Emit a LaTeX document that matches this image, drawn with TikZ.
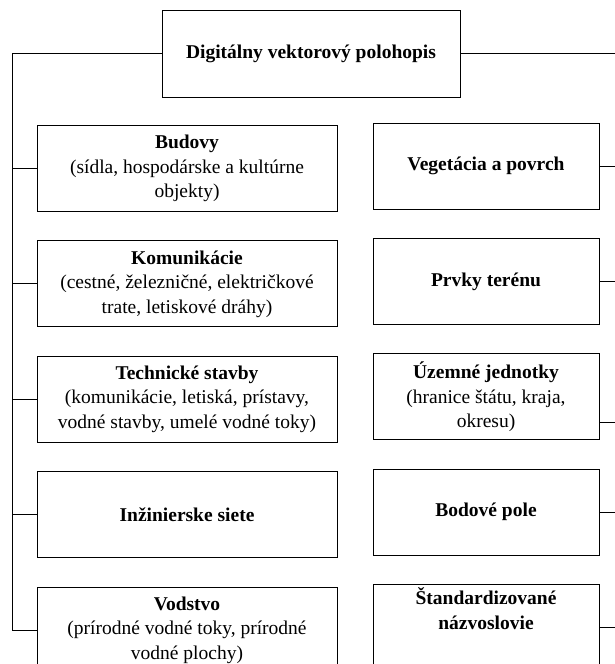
\documentclass[tikz,border=0pt]{standalone}
\usepackage{fontspec}
\setmainfont{Liberation Serif}
\usetikzlibrary{positioning}

\begin{document}
\begin{tikzpicture}[
  x=1pt, y=1pt,
  font=\fontsize{19.5}{24.5}\selectfont,
  box/.style={draw, line width=0.9pt, align=center, inner sep=0pt, minimum height=86pt},
  lbox/.style={box, minimum width=300pt},
  rbox/.style={box, minimum width=226pt},
  hlavny/.style={box, minimum width=298pt, minimum height=87pt, font=\fontsize{19.5}{24.5}\selectfont\bfseries},
  spoj/.style={line width=0.9pt},
  node distance=28.5pt,
]
\useasboundingbox (0,0) rectangle (615,-664);

% --- Hlavny uzol ---
\node[hlavny] (dvp) at (311,-53.5) {Digitálny vektorový polohopis};

% --- Lavy stlpec ---
\node[lbox] (bud) at (187,-168.5) {\textbf{Budovy}\\(sídla, hospodárske a kultúrne\\objekty)};
\node[lbox, below=of bud] (kom) {\textbf{Komunikácie}\\(cestné, železničné, električkové\\trate, letiskové dráhy)};
\node[lbox, below=of kom] (tech) {\textbf{Technické stavby}\\(komunikácie, letiská, prístavy,\\vodné stavby, umelé vodné toky)};
\node[lbox, below=of tech] (inz) {\textbf{Inžinierske siete}};
\node[lbox, below=of inz] (vod) {\textbf{Vodstvo}\\(prírodné vodné toky, prírodné\\vodné plochy)};

% --- Pravy stlpec ---
\node[rbox] (veg) at (486,-166) {\textbf{Vegetácia a povrch}};
\node[rbox, below=of veg] (prv) {\textbf{Prvky terénu}};
\node[rbox, below=of prv] (uze) {\textbf{Územné jednotky}\\(hranice štátu, kraja,\\okresu)};
\node[rbox, below=of uze] (bod) {\textbf{Bodové pole}};
\node[rbox, below=of bod] (std) {\textbf{Štandardizované}\\\textbf{názvoslovie}\\[14pt]\mbox{}};

% --- Spojnice vlavo ---
\coordinate (trunk) at (12,-53.5);
\draw[spoj] (dvp.west) -- (trunk) -- (trunk |- vod.west) -- (vod.west);
\draw[spoj] (trunk |- bud.west) -- (bud.west);
\draw[spoj] (trunk |- kom.west) -- (kom.west);
\draw[spoj] (trunk |- tech.west) -- (tech.west);
\draw[spoj] (trunk |- inz.west) -- (inz.west);

% --- Spojnice vpravo ---
\coordinate (okraj) at (616,0);
\draw[spoj] (dvp.east) -- (dvp.east -| okraj);
\draw[spoj] (veg.east) -- (veg.east -| okraj);
\draw[spoj] (prv.east) -- (prv.east -| okraj);
\draw[spoj] ([yshift=-26pt]uze.east) -- ([yshift=-26pt]uze.east -| okraj);
\draw[spoj] (bod.east) -- (bod.east -| okraj);
\draw[spoj] (std.east) -- (std.east -| okraj);

\end{tikzpicture}
\end{document}
